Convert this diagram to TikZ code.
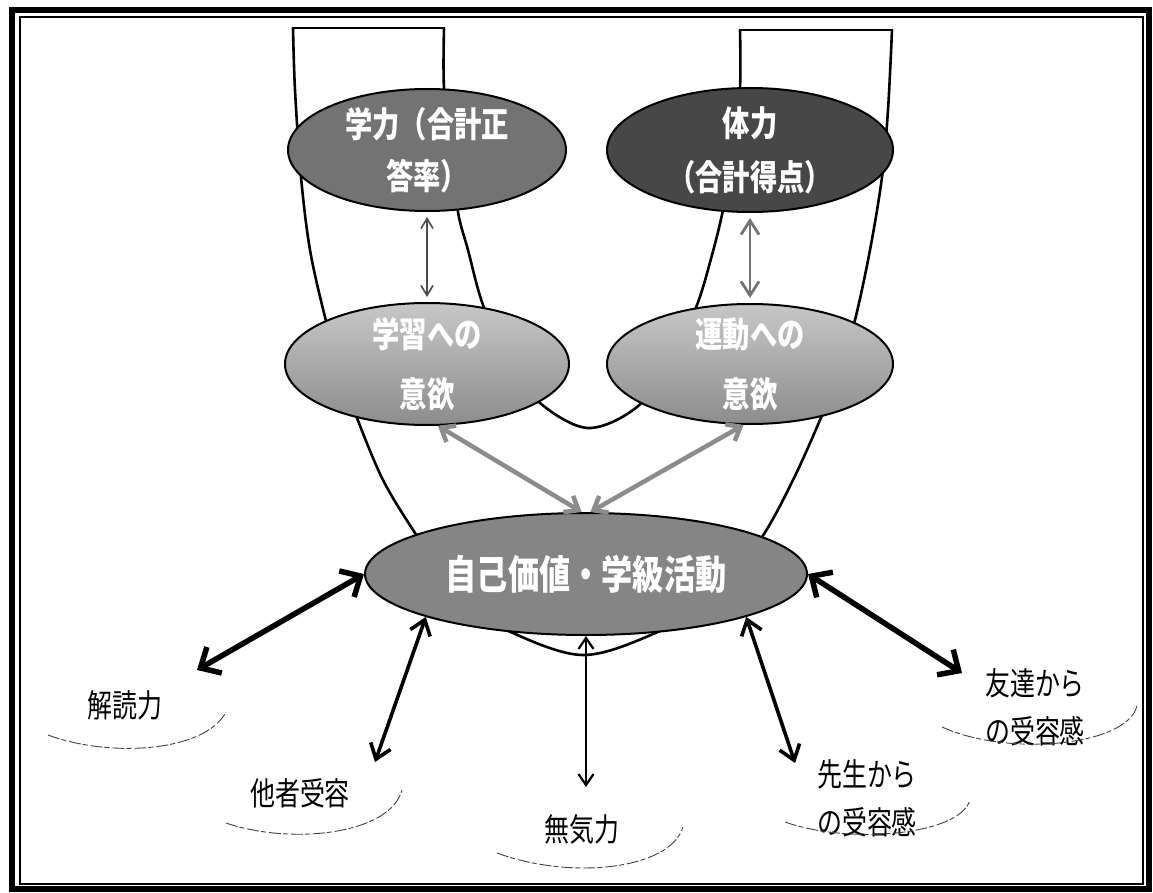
\documentclass[tikz,border=0pt]{standalone}
\usepackage{fontspec}
\newfontfamily\jp[FakeStretch=0.78]{Noto Sans CJK JP}
\usetikzlibrary{arrows.meta,shapes.geometric}
\begin{document}
\begin{tikzpicture}[x=1pt,y=-1pt,
  uline/.style={line width=2.6pt, line join=round},
  bub/.style={ellipse, draw=black, line width=2pt, inner xsep=0pt, inner ysep=-10pt, text=white, align=center},
  lab/.style={align=center, text=black, inner sep=0pt, font={\jp\fontsize{32}{48}\selectfont}},
  arcd/.style={line width=0.9pt, black!75, dash pattern=on 12pt off 2pt on 5pt off 3pt},
  thickarr/.style={line width=5.5pt, {Straight Barb[length=16pt,width=30pt]}-{Straight Barb[length=16pt,width=30pt]}},
  medarr/.style={line width=3.6pt, {Straight Barb[length=14pt,width=21pt]}-{Straight Barb[length=14pt,width=21pt]}},
  thinarr/.style={line width=2.2pt, {Straight Barb[length=11pt,width=15pt]}-{Straight Barb[length=11pt,width=15pt]}},
  grayarr/.style={line width=4.5pt, black!45, {Straight Barb[length=12pt,width=19pt]}-{Straight Barb[length=12pt,width=19pt]}},
  toparr/.style={black!70, {Straight Barb[length=10pt,width=12pt]}-{Straight Barb[length=10pt,width=12pt]}}
]
\useasboundingbox (0,0) rectangle (1153,893);
% frame
\draw[line width=6pt] (12,10) rectangle (1149,889);
\draw[line width=1.4pt] (20,17) rectangle (1143,884);

% U-shaped ribbon lines (behind the ellipses)
\draw[uline, line cap=rect] (293,28) -- (444,28);
\draw[uline, line cap=rect] (740,30) -- (892,30);
\draw[uline] plot[smooth, tension=0.55] coordinates {
  (293,28) (295,90) (301,177) (310,250) (325,317) (340,370) (357,418) (383,480) (415,533)
  (460,600) (513,633) (583,655) (653,634) (715,598) (762,537) (793,480) (820,420)
  (840,370) (855,320) (870,250) (882,177) (888,110) (892,30)};
\draw[uline] plot[smooth, tension=0.55] coordinates {
  (444,28) (444,88) (451,150) (458,212) (468,250) (483,305) (508,360) (540,403)
  (588,428) (637,407) (672,360) (697,305) (712,255) (723,210) (734,150) (740,88) (740,30)};

% ellipses
\node[bub, fill=black!55, minimum width=278pt, minimum height=122pt,
      font={\jp\bfseries\fontsize{35}{52}\selectfont}] (gak) at (427,150) {学力（合計正\\答率）};
\node[bub, fill=black!72, minimum width=286pt, minimum height=124pt,
      font={\jp\bfseries\fontsize{35}{54}\selectfont}] (tai) at (750,150) {体力\\（合計得点）};
\node[bub, top color=black!22, bottom color=black!45, minimum width=284pt, minimum height=122pt,
      font={\jp\bfseries\fontsize{35}{60}\selectfont}] (mL) at (427,364) {学習への\\意欲};
\node[bub, top color=black!22, bottom color=black!45, minimum width=286pt, minimum height=120pt,
      font={\jp\bfseries\fontsize{35}{60}\selectfont}] (mR) at (750,364) {運動への\\意欲};
\node[bub, fill=black!48, minimum width=442pt, minimum height=122pt,
      font={\jp\bfseries\fontsize{40}{48}\selectfont}] (self) at (586,574) {自己価値・学級活動};

% bottom labels
\node[lab] (kd) at (125,705) {解読力};
\node[lab] (ta) at (300,793) {他者受容};
\node[lab] (mk) at (582,829) {無気力};
\node[lab] (ss) at (867,798) {先生から\\の受容感};
\node[lab] (tm) at (1035,707) {友達から\\の受容感};

% dashed arcs under the labels
\draw[arcd] (48,735) .. controls (110,758) and (205,752) .. (226,712);
\draw[arcd] (226,823) .. controls (290,845) and (390,835) .. (402,790);
\draw[arcd] (497,853) .. controls (570,880) and (670,870) .. (683,827);
\draw[arcd] (785,822) .. controls (850,845) and (960,835) .. (970,800);
\draw[arcd] (942,727) .. controls (1010,758) and (1130,745) .. (1137,705);

% arrow ends near the labels
\coordinate (kdT) at (197,670);
\coordinate (taT) at (375,762);
\coordinate (mkT) at (586,787);
\coordinate (ssT) at (795,763);
\coordinate (tmT) at (962,673);

% arrows
\draw[toparr, line width=1.6pt, shorten <=5pt, shorten >=5pt] (gak.south) -- (mL.north);
\draw[toparr, line width=2.8pt, black!55, {Straight Barb[length=14pt,width=18pt]}-{Straight Barb[length=14pt,width=18pt]}, shorten <=5pt, shorten >=5pt] (tai.south) -- (mR.north);
\draw[grayarr] (mL.280) -- (self.94);
\draw[grayarr] (mR.264) -- (self.86);
\draw[thickarr] (self.west) -- (kdT);
\draw[thickarr] (self.east) -- (tmT);
\draw[medarr] (self.195) -- (taT);
\draw[medarr] (self.345) -- (ssT);
\draw[thinarr] (self.south) -- (mkT);
\end{tikzpicture}
\end{document}
